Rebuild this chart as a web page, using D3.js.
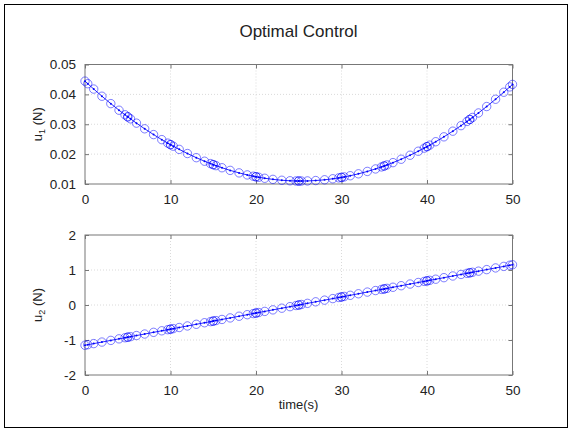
<!DOCTYPE html>
<html lang="en">
<head>
  <meta charset="UTF-8">
  <title>Optimal Control</title>
  <script src="https://d3js.org/d3.v7.min.js"></script>
  <style>
    body { margin: 0; background: #fff; }
    svg text { font-family: Arial, "Liberation Sans", Helvetica, sans-serif; fill: #222; }
  </style>
</head>
<body>
<svg id="chart" width="569" height="430"></svg>
<script>
// Collocation times (10 segments, 8 nodes each)
const time = [
  0, 0.32, 1.02, 1.98, 3.02, 3.98, 4.68, 5,
  5, 5.32, 6.02, 6.98, 8.02, 8.98, 9.68, 10,
  10, 10.32, 11.02, 11.98, 13.02, 13.98, 14.68, 15,
  15, 15.32, 16.02, 16.98, 18.02, 18.98, 19.68, 20,
  20, 20.32, 21.02, 21.98, 23.02, 23.98, 24.68, 25,
  25, 25.32, 26.02, 26.98, 28.02, 28.98, 29.68, 30,
  30, 30.32, 31.02, 31.98, 33.02, 33.98, 34.68, 35,
  35, 35.32, 36.02, 36.98, 38.02, 38.98, 39.68, 40,
  40, 40.32, 41.02, 41.98, 43.02, 43.98, 44.68, 45,
  45, 45.32, 46.02, 46.98, 48.02, 48.98, 49.68, 50
];
const u1 = [
  0.04443, 0.04358, 0.04178, 0.03938, 0.03690, 0.03470, 0.03317, 0.03248,
  0.03248, 0.03181, 0.03037, 0.02848, 0.02654, 0.02485, 0.02368, 0.02317,
  0.02317, 0.02266, 0.02159, 0.02020, 0.01881, 0.01763, 0.01683, 0.01648,
  0.01648, 0.01614, 0.01544, 0.01456, 0.01372, 0.01304, 0.01261, 0.01243,
  0.01243, 0.01226, 0.01192, 0.01155, 0.01125, 0.01108, 0.01101, 0.01100,
  0.01100, 0.01100, 0.01103, 0.01116, 0.01141, 0.01175, 0.01205, 0.01221,
  0.01221, 0.01237, 0.01277, 0.01341, 0.01421, 0.01504, 0.01572, 0.01604,
  0.01604, 0.01638, 0.01715, 0.01829, 0.01963, 0.02097, 0.02201, 0.02251,
  0.02251, 0.02301, 0.02415, 0.02579, 0.02768, 0.02953, 0.03094, 0.03160,
  0.03160, 0.03227, 0.03378, 0.03593, 0.03837, 0.04072, 0.04250, 0.04333
];
const u2 = [
  -1.150, -1.135, -1.103, -1.059, -1.011, -0.967, -0.935, -0.920,
  -0.920, -0.905, -0.873, -0.829, -0.781, -0.737, -0.705, -0.690,
  -0.690, -0.675, -0.643, -0.599, -0.551, -0.507, -0.475, -0.460,
  -0.460, -0.445, -0.413, -0.369, -0.321, -0.277, -0.245, -0.230,
  -0.230, -0.215, -0.183, -0.139, -0.091, -0.047, -0.015, 0.000,
  0.000, 0.015, 0.047, 0.091, 0.139, 0.183, 0.215, 0.230,
  0.230, 0.245, 0.277, 0.321, 0.369, 0.413, 0.445, 0.460,
  0.460, 0.475, 0.507, 0.551, 0.599, 0.643, 0.675, 0.690,
  0.690, 0.705, 0.737, 0.781, 0.829, 0.873, 0.905, 0.920,
  0.920, 0.935, 0.967, 1.011, 1.059, 1.103, 1.135, 1.150
];
const xTicks = [0, 10, 20, 30, 40, 50];
const u1Ticks = [0.01, 0.02, 0.03, 0.04, 0.05];
const u2Ticks = [-2, -1, 0, 1, 2];

const svg = d3.select('#chart');

// Figure frame
svg.append('rect')
  .attr('x', 4.5).attr('y', 4.5).attr('width', 563).attr('height', 423)
  .attr('fill', '#fff').attr('stroke', '#000').attr('stroke-width', 1);

// Title
svg.append('text')
  .attr('x', 298.5).attr('y', 37)
  .attr('text-anchor', 'middle')
  .attr('font-size', 17)
  .text('Optimal Control');

const left = 85, right = 512.5;
const x = d3.scaleLinear().domain([0, 50]).range([left, right]);

function panel(top, bottom, yDomain, yTicks, yFmt, values, sub) {
  const y = d3.scaleLinear().domain(yDomain).range([bottom, top]);
  const g = svg.append('g');

  // grid
  xTicks.slice(1, -1).forEach(t => {
    g.append('line')
      .attr('x1', x(t)).attr('x2', x(t)).attr('y1', top).attr('y2', bottom)
      .attr('stroke', '#dadada').attr('stroke-dasharray', '1,2');
  });
  yTicks.slice(1, -1).forEach(t => {
    g.append('line')
      .attr('x1', left).attr('x2', right).attr('y1', y(t)).attr('y2', y(t))
      .attr('stroke', '#dadada').attr('stroke-dasharray', '1,2');
  });

  // axes via d3 (inward ticks on all four sides)
  const tl = 4;
  g.append('g').attr('transform', `translate(0,${bottom})`)
    .call(d3.axisBottom(x).tickValues(xTicks).tickSizeInner(-tl).tickSizeOuter(0).tickPadding(tl + 6))
    .call(a => { a.select('.domain').remove(); });
  g.append('g').attr('transform', `translate(0,${top})`)
    .call(d3.axisTop(x).tickValues(xTicks).tickSizeInner(-tl).tickSizeOuter(0).tickFormat(''))
    .call(a => a.select('.domain').remove());
  g.append('g').attr('transform', `translate(${left},0)`)
    .call(d3.axisLeft(y).tickValues(yTicks).tickFormat(yFmt).tickSizeInner(-tl).tickSizeOuter(0).tickPadding(tl + 5))
    .call(a => a.select('.domain').remove());
  g.append('g').attr('transform', `translate(${right},0)`)
    .call(d3.axisRight(y).tickValues(yTicks).tickSizeInner(-tl).tickSizeOuter(0).tickFormat(''))
    .call(a => a.select('.domain').remove());
  g.selectAll('.tick line').attr('stroke', '#777');
  g.selectAll('.tick text').attr('font-size', 13.5).attr('fill', '#222')
    .style('font-family', 'Arial, "Liberation Sans", sans-serif');

  g.append('rect')
    .attr('x', left).attr('y', top).attr('width', right - left).attr('height', bottom - top)
    .attr('fill', 'none').attr('stroke', '#777').attr('stroke-width', 1);

  // y label
  const lbl = svg.append('text')
    .attr('transform', `translate(42,${(top + bottom) / 2}) rotate(-90)`)
    .attr('text-anchor', 'middle')
    .attr('font-size', 13);
  lbl.append('tspan').text('u');
  lbl.append('tspan').attr('font-size', 9).attr('dy', 3).text(sub);
  lbl.append('tspan').attr('dy', -3).text(' (N)');

  // data
  const pts = time.map((t, i) => [t, values[i]]);
  g.append('path')
    .attr('d', d3.line().x(d => x(d[0])).y(d => y(d[1]))(pts))
    .attr('fill', 'none').attr('stroke', '#0000ff').attr('stroke-width', 1).attr('opacity', 0.85);
  g.selectAll('.dot').data(pts).enter().append('circle')
    .attr('cx', d => x(d[0])).attr('cy', d => y(d[1])).attr('r', 1)
    .attr('fill', '#0000ff');
  g.selectAll('.mk').data(pts).enter().append('circle')
    .attr('cx', d => x(d[0])).attr('cy', d => y(d[1])).attr('r', 4.2)
    .attr('fill', 'none').attr('stroke', '#0000ff').attr('stroke-width', 1).attr('opacity', 0.5);
}

panel(64.5, 184, [0.01, 0.05], u1Ticks, d3.format('.2f'), u1, '1');
panel(235, 375, [-2, 2], u2Ticks, d => String(d), u2, '2');

// x label
svg.append('text')
  .attr('x', 298.5).attr('y', 409)
  .attr('text-anchor', 'middle')
  .attr('font-size', 13)
  .text('time(s)');
</script>
</body>
</html>
